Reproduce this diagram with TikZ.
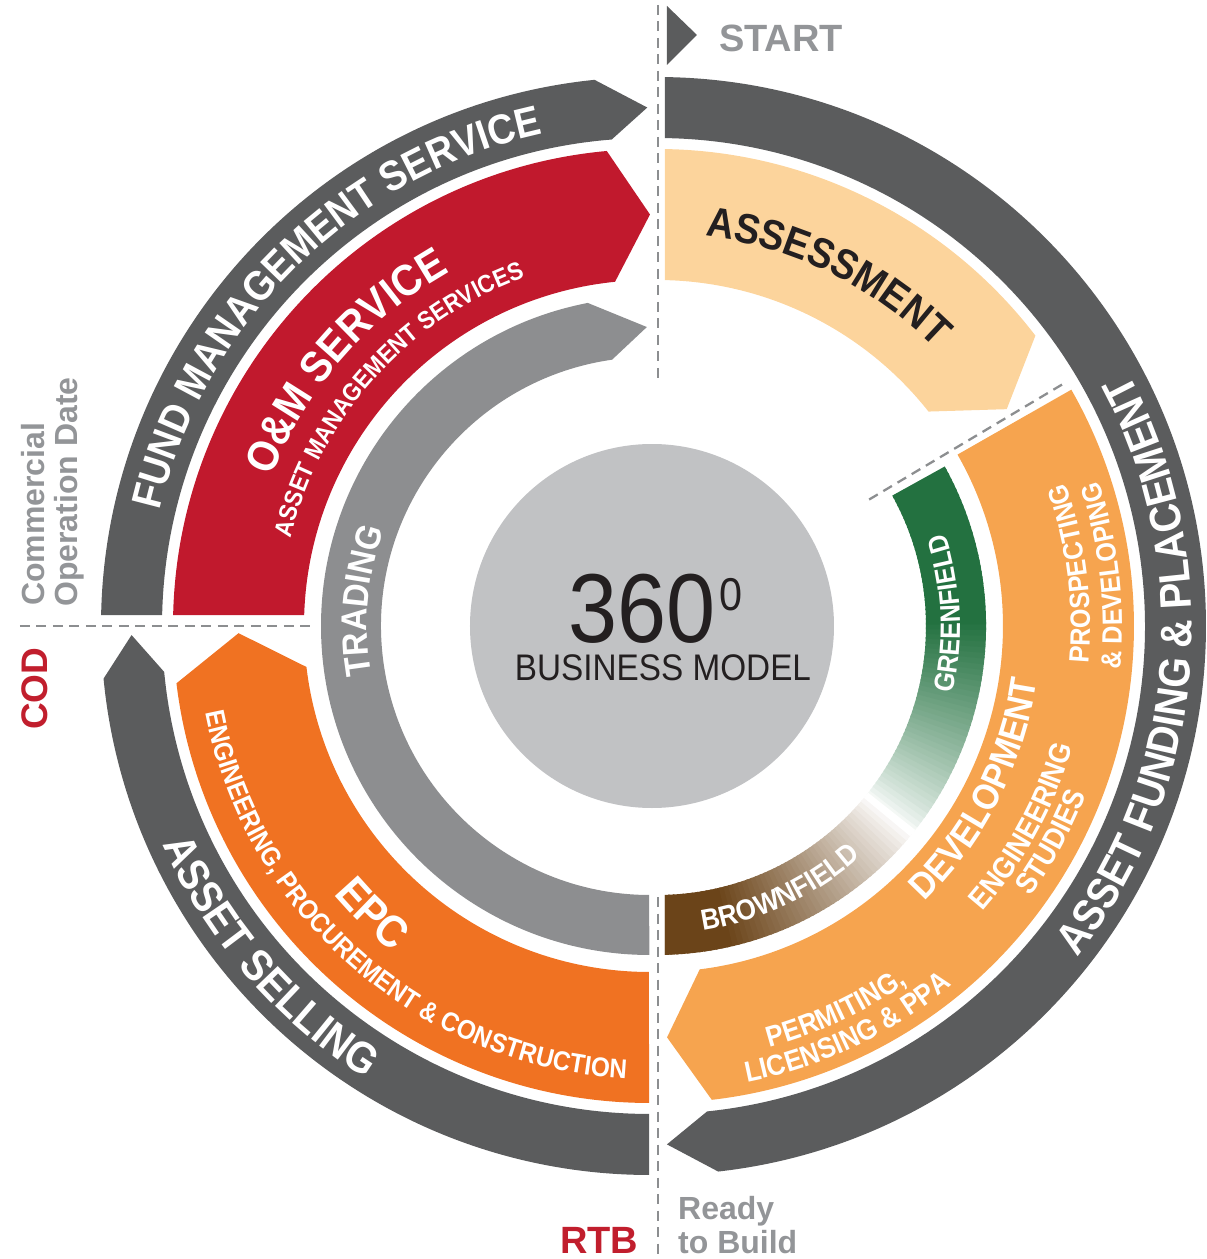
\documentclass[tikz,border=0pt]{standalone}
\usepackage{fontspec}
\setmainfont{Liberation Sans}
\newfontfamily\ringfont[FakeStretch=0.9]{Liberation Sans}
\newfontfamily\discfont[FakeStretch=0.9]{Liberation Sans}
\usetikzlibrary{decorations.text}
\definecolor{ringdark}{RGB}{91,92,93}
\definecolor{omred}{RGB}{193,25,45}
\definecolor{peach}{RGB}{252,212,156}
\definecolor{devorange}{RGB}{246,164,79}
\definecolor{epcorange}{RGB}{240,114,34}
\definecolor{tradegray}{RGB}{141,142,144}
\definecolor{discgray}{RGB}{193,194,196}
\definecolor{gdark}{RGB}{35,113,64}
\definecolor{bdark}{RGB}{107,68,25}
\definecolor{labgray}{RGB}{147,149,152}
\definecolor{codred}{RGB}{193,30,45}
\definecolor{txtdark}{RGB}{35,31,32}
\definecolor{guidegray}{RGB}{140,142,144}
% band: fill, start out, start in, corner out, corner in, tip, rin, rout
\newcommand{\cwband}[8]{%
  \pgfmathsetmacro{\rmidv}{(#7+#8)/2}%
  \fill[#1] (#2:#8pt) arc[start angle=#2, end angle=#4, radius=#8pt]
    -- (#6:\rmidv pt) -- (#5:#7pt) arc[start angle=#5, end angle=#3, radius=#7pt] -- cycle;}
% text along arc: center angle, half span, baseline radius, size, colour, text
\newcommand{\cwtext}[6]{%
  \path[decorate,decoration={text along path,text align=center,text color=#5,
    text={|\ringfont\bfseries\fontsize{#4}{#4}\selectfont|#6}}]
    ({#1+#2}:#3pt) arc[start angle={#1+#2}, end angle={#1-#2}, radius=#3pt];}
\newcommand{\ccwtext}[6]{%
  \path[decorate,decoration={text along path,text align=center,text color=#5,
    text={|\ringfont\bfseries\fontsize{#4}{#4}\selectfont|#6}}]
    ({#1-#2}:#3pt) arc[start angle={#1-#2}, end angle={#1+#2}, radius=#3pt];}
\begin{document}
\begin{tikzpicture}[x=1pt,y=1pt,
  guide/.style={draw=guidegray, line width=2.3pt, dash pattern=on 10pt off 6.5pt},
  lab/.style={inner sep=0pt, font=\bfseries}]
\useasboundingbox (-657,-633) rectangle (550,626);

% ---------- left half ----------
\begin{scope}[shift={(-7,0)}]
  \cwband{ringdark}{178.852}{178.708}{95.8}{94.5}{90.3}{488}{549}
  \cwband{omred}{178.679}{178.178}{95.2}{95.8}{90}{346}{477}
  \cwband{tradegray}{269.9}{269.8}{100.9}{98.1}{90.6}{269}{329}
  \cwband{ringdark}{269.9}{269.9}{185.5}{185.4}{181}{488}{549}
  \cwband{epcorange}{269.9}{269.8}{186.9}{186.8}{181}{346}{477}
  \cwtext{134.5}{44}{503.5}{42}{white}{FUND MANAGEMENT SERVICE}
  \ccwtext{221}{30}{534}{44}{white}{ASSET SELLING}
  \cwtext{139}{30}{407}{44}{white}{O{\&}M SERVICE}
  \cwtext{138}{40}{370}{25}{white}{ASSET MANAGEMENT SERVICES}
  \ccwtext{226}{20}{415}{45}{white}{EPC}
  \ccwtext{229}{50}{453}{27}{white}{ENGINEERING, PROCUREMENT {\&} CONSTRUCTION}
  \cwtext{175}{30}{283}{36}{white}{TRADING}
\end{scope}

% ---------- right half ----------
\cwband{ringdark}{89.165}{89.061}{-83.6}{-84.1}{-88.9}{488}{549}
\cwband{peach}{89.039}{88.675}{37.5}{38.3}{31.8}{346}{477}
\cwband{devorange}{29.7}{29.7}{-83.4}{-82.9}{-88.6}{346}{477}
\begin{scope}
  \clip (29:329pt) arc[start angle=29, end angle=-88.607, radius=329pt]
    -- (-88.296:269pt) arc[start angle=-88.296, end angle=29, radius=269pt] -- cycle;
  \foreach \a in {-39,...,31} {
    \pgfmathsetmacro{\gp}{min(100,100*((\a+39.01)/40)^0.8)}
    \fill[gdark!\gp!white] ({\a+0.7}:260pt) -- ({\a+0.7}:340pt) -- ({\a-0.7}:340pt) -- ({\a-0.7}:260pt) -- cycle;
  }
  \foreach \a in {-92,...,-39} {
    \pgfmathsetmacro{\bp}{min(100,100*((-38.99-\a)/38)^0.85)}
    \fill[bdark!\bp!white] ({\a+0.7}:260pt) -- ({\a+0.7}:340pt) -- ({\a-0.7}:340pt) -- ({\a-0.7}:260pt) -- cycle;
  }
\end{scope}
\ccwtext{-5}{44}{535}{44}{white}{ASSET FUNDING {\&} PLACEMENT}
\cwtext{64}{30}{393}{42}{txtdark}{ASSESSMENT}
\ccwtext{-27}{40}{384}{37}{white}{DEVELOPMENT}
\ccwtext{-28.7}{30}{433}{30}{white}{ENGINEERING}
\ccwtext{-28.7}{30}{461}{30}{white}{STUDIES}
\ccwtext{7.2}{30}{433}{28}{white}{PROSPECTING}
\ccwtext{6.4}{30}{465}{28}{white}{{\&} DEVELOPING}
\ccwtext{-65}{30}{436}{29}{white}{PERMITING,}
\ccwtext{-64.7}{30}{465}{29}{white}{LICENSING {\&} PPA}
\ccwtext{2.5}{25}{303}{28}{white}{GREENFIELD}
\ccwtext{-65}{30}{308}{29}{white}{BROWNFIELD}

% ---------- centre ----------
\fill[discgray] (-5,0) circle[radius=182pt];
\node (t360) [inner sep=0pt, anchor=base, text=txtdark, font=\discfont\fontsize{98}{98}\selectfont] at (-15,-16) {360};
\node (tdeg) [inner sep=0pt, anchor=base west, text=txtdark, font=\discfont\fontsize{46}{46}\selectfont] at (62,16) {0};
\node (tbm) [inner sep=0pt, anchor=base, text=txtdark, font=\discfont\fontsize{37}{37}\selectfont] at (6,-54) {BUSINESS MODEL};

% ---------- guides ----------
\coordinate (gt1) at (1,621); \coordinate (gt2) at (1,248);
\coordinate (gb1) at (1,-271); \coordinate (gb2) at (1,-633);
\coordinate (gh1) at (-637,0); \coordinate (gh2) at (-342,0);
\coordinate (gd1) at (30.8:247pt); \coordinate (gd2) at (30.8:473pt);
\draw[guide] (gt1) -- (gt2);
\draw[guide] (gb1) -- (gb2);
\draw[guide] (gh1) -- (gh2);
\draw[guide] (gd1) -- (gd2);

% ---------- outside labels ----------
\fill[ringdark] (10,620) -- (40,591) -- (10,561) -- cycle;
\node (start) [lab, anchor=base west, text=labgray, font=\bfseries\fontsize{38}{38}\selectfont] at (62,574) {START};
\node (comm) [lab, anchor=base west, rotate=90, text=labgray, font=\bfseries\fontsize{32}{32}\selectfont] at (-612,20) {Commercial};
\node (oper) [lab, anchor=base west, rotate=90, text=labgray, font=\bfseries\fontsize{32}{32}\selectfont] at (-579,19) {Operation Date};
\node (cod) [lab, anchor=base west, rotate=90, text=codred, font=\bfseries\fontsize{37}{37}\selectfont] at (-609,-104) {COD};
\node (rtb) [lab, anchor=base west, text=codred, font=\bfseries\fontsize{38}{38}\selectfont] at (-97,-627) {RTB};
\node (ready) [lab, anchor=base west, text=labgray, font=\bfseries\fontsize{32}{32}\selectfont] at (21,-593) {Ready};
\node (tob) [lab, anchor=base west, text=labgray, font=\bfseries\fontsize{32}{32}\selectfont] at (21,-627) {to Build};
\end{tikzpicture}
\end{document}
